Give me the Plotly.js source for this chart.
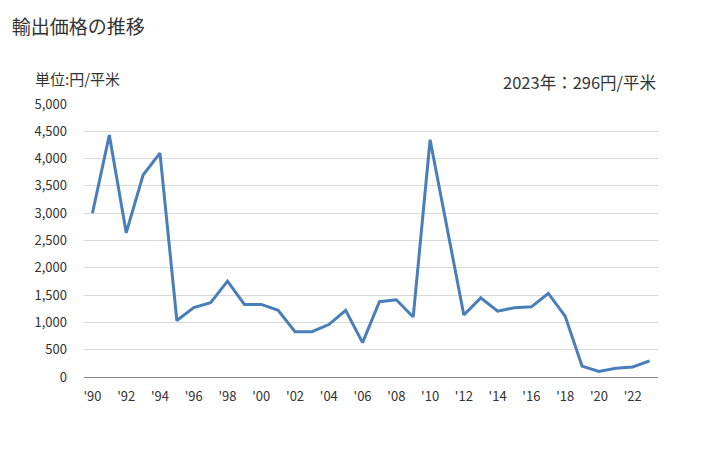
<!DOCTYPE html>
<html>
<head>
<meta charset="utf-8">
<script src="https://cdn.plot.ly/plotly-3.0.1.min.js"></script>
<style>html,body{margin:0;padding:0;background:#fff;}#chart{width:728px;height:450px;}</style>
</head>
<body>
<div id="chart"></div>
<script>
const years = ["1990","1991","1992","1993","1994","1995","1996","1997","1998","1999","2000","2001","2002","2003","2004","2005","2006","2007","2008","2009","2010","2011","2012","2013","2014","2015","2016","2017","2018","2019","2020","2021","2022","2023"];
const prices = [3000,4430,2640,3700,4100,1035,1270,1360,1755,1330,1330,1220,830,830,960,1220,630,1380,1415,1100,4345,2740,1135,1450,1205,1270,1285,1530,1115,200,100,160,183,296];
const tickVals = ["1990","1992","1994","1996","1998","2000","2002","2004","2006","2008","2010","2012","2014","2016","2018","2020","2022"];
const tickText = ["'90","'92","'94","'96","'98","'00","'02","'04","'06","'08","'10","'12","'14","'16","'18","'20","'22"];
const yTicks = [0,500,1000,1500,2000,2500,3000,3500,4000,4500,5000];
const yTickText = ["0","500","1,000","1,500","2,000","2,500","3,000","3,500","4,000","4,500","5,000"];
const titleText = "輸出価格の推移";
const unitText = "単位:円/平米";
const noteText = "2023年：296円/平米";

const font = "'Noto Sans CJK JP', 'Noto Sans', sans-serif";
Plotly.newPlot("chart", [{
  x: years, y: prices, type: "scatter", mode: "lines",
  line: {color: "#4a7ebb", width: 3}, hoverinfo: "skip"
}], {
  width: 728, height: 450,
  margin: {l: 84, r: 70, t: 104, b: 73},
  paper_bgcolor: "#fff", plot_bgcolor: "#fff",
  showlegend: false,
  font: {family: font, color: "#333", size: 13},
  title: {text: titleText, x: 0.016, xanchor: "left", y: 0.953, yanchor: "top", font: {family: font, size: 19, color: "#333"}},
  xaxis: {type: "category", range: [-0.5, 33.5], tickmode: "array", tickvals: tickVals, ticktext: tickText,
    showgrid: false, showline: false, zeroline: false, ticks: "", ticklabelstandoff: 10, tickfont: {size: 13, color: "#333"}, fixedrange: true},
  yaxis: {range: [0, 5000], tickmode: "array", tickvals: yTicks, ticktext: yTickText, showgrid: true,
    gridcolor: "#d9d9d9", gridwidth: 1, zeroline: true, zerolinecolor: "#888", zerolinewidth: 1,
    showline: false, ticks: "", ticklabelstandoff: 16, tickfont: {size: 13, color: "#333"}, fixedrange: true},
  annotations: [
    {text: unitText, xref: "paper", yref: "paper", x: -0.089, y: 1.048, xanchor: "left", yanchor: "bottom", showarrow: false, font: {size: 15, color: "#333"}},
    {text: noteText, xref: "paper", yref: "paper", x: 1.0, y: 1.03, xanchor: "right", yanchor: "bottom", showarrow: false, font: {size: 16.5, color: "#333"}}
  ]
}, {staticPlot: true});
</script>
</body>
</html>
